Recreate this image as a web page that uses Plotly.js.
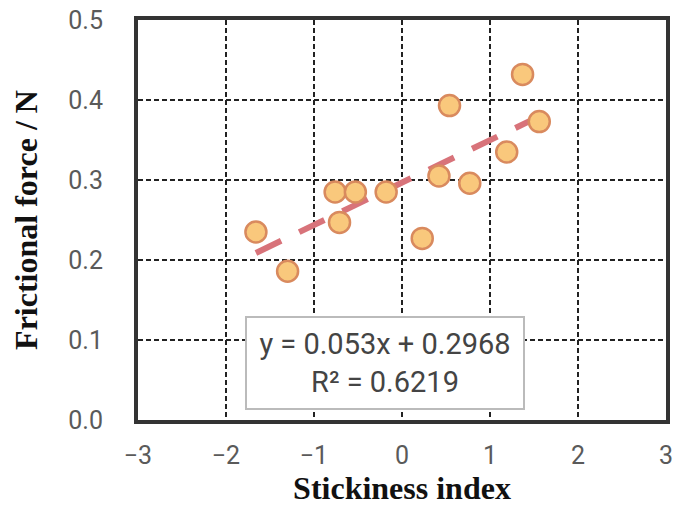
<!DOCTYPE html>
<html>
<head>
<meta charset="utf-8">
<script src="https://cdn.plot.ly/plotly-3.0.1.min.js"></script>
<style>html,body{margin:0;padding:0;background:#fff;}#chart{width:675px;height:511px;}</style>
</head>
<body>
<div id="chart"></div>
<script>
// Data
const stickinessIndex = [-1.66, -1.30, -0.76, -0.53, -0.71, -0.18, 0.23, 0.42, 0.54, 0.77, 1.19, 1.37, 1.56];
const frictionalForce = [0.235, 0.186, 0.285, 0.285, 0.247, 0.285, 0.227, 0.305, 0.393, 0.296, 0.335, 0.432, 0.373];
const trendSlope = 0.053;
const trendIntercept = 0.2968;
const trendLabel = "y = 0.053x + 0.2968<br>R\u00b2 = 0.6219";
const xTicks = [-3, -2, -1, 0, 1, 2, 3];
const xTickText = ["\u22123", "\u22122", "\u22121", "0", "1", "2", "3"];
const yTicks = [0, 0.1, 0.2, 0.3, 0.4, 0.5];
const yTickText = ["0.0", "0.1", "0.2", "0.3", "0.4", "0.5"];

const xMin = Math.min(...stickinessIndex);
const xMax = Math.max(...stickinessIndex);
const trendX = [xMin, xMax];
const trendY = trendX.map(v => trendSlope * v + trendIntercept);

const traces = [
  {
    x: trendX, y: trendY, mode: 'lines', type: 'scatter',
    line: {color: '#d8737a', width: 6, dash: '28px,20px'},
    hoverinfo: 'skip'
  },
  {
    x: stickinessIndex, y: frictionalForce, mode: 'markers', type: 'scatter',
    marker: {size: 21, color: '#f9c87c', line: {color: '#d98a5e', width: 2.5}}
  }
];

const tickFont = {family: 'Roboto, "Liberation Sans", Arial, sans-serif', size: 25, color: '#5a5a5a'};
const titleFont = {family: '"Liberation Serif", "Times New Roman", serif', size: 32, color: '#111', weight: 'bold'};

const layout = {
  width: 675, height: 511,
  margin: {l: 138, r: 9, t: 20, b: 91},
  paper_bgcolor: '#fff', plot_bgcolor: '#fff',
  showlegend: false,
  xaxis: {
    range: [-3, 3], tickvals: xTicks, ticktext: xTickText,
    tickfont: tickFont, ticks: 'outside', ticklen: 10, tickcolor: 'rgba(0,0,0,0)',
    showgrid: true, gridcolor: '#222', gridwidth: 2, griddash: '5px,3px',
    zeroline: false, showline: true, mirror: true, linecolor: '#333', linewidth: 4,
    title: {text: '<b>Stickiness index</b>', font: titleFont, standoff: 6}
  },
  yaxis: {
    range: [0, 0.5], tickvals: yTicks, ticktext: yTickText,
    tickfont: tickFont, ticks: 'outside', ticklen: 26, tickcolor: 'rgba(0,0,0,0)',
    showgrid: true, gridcolor: '#222', gridwidth: 2, griddash: '5px,3px',
    zeroline: false, showline: true, mirror: true, linecolor: '#333', linewidth: 4,
    title: {text: '<b>Frictional force / N</b>', font: titleFont, standoff: 22}
  },
  annotations: [{
    x: -0.19, y: 0.071, xref: 'x', yref: 'y', showarrow: false,
    text: trendLabel,
    font: {family: 'Roboto, "Liberation Sans", Arial, sans-serif', size: 29, color: '#444'},
    bgcolor: '#fff', bordercolor: '#bbb', borderwidth: 2, borderpad: 3,
    width: 270, height: 84, align: 'center'
  }]
};

Plotly.newPlot('chart', traces, layout, {displayModeBar: false, staticPlot: true});
</script>
</body>
</html>
